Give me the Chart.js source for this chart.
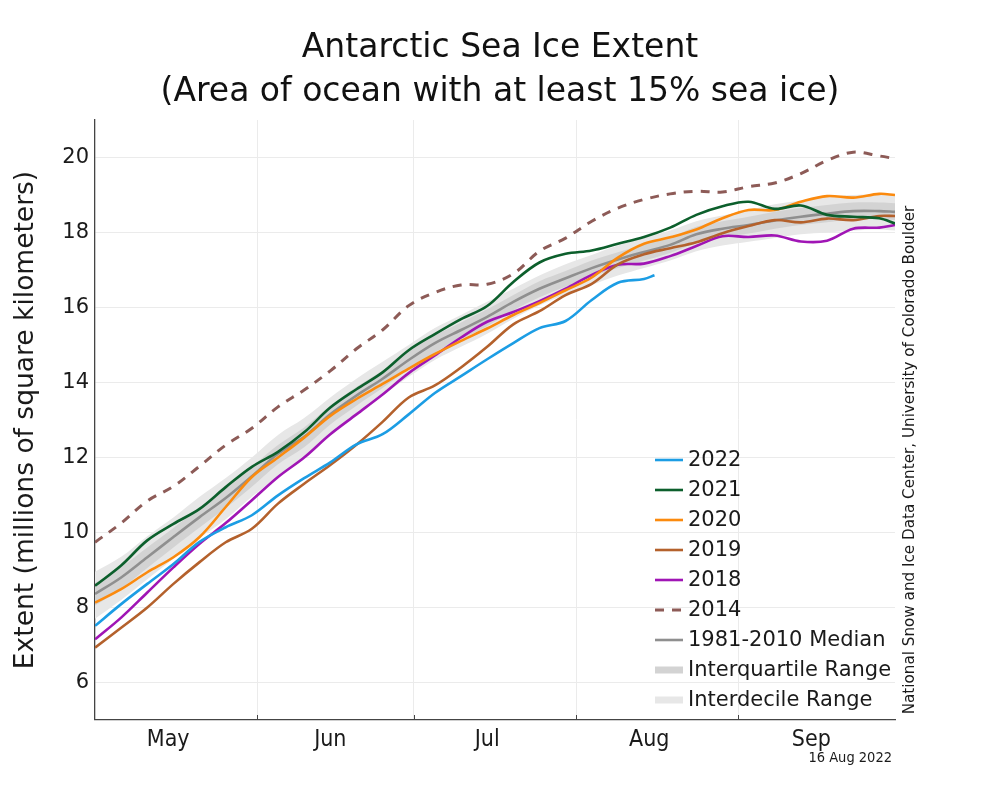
<!DOCTYPE html>
<html>
<head>
<meta charset="utf-8">
<script src="https://cdn.jsdelivr.net/npm/chart.js@4.4.1/dist/chart.umd.min.js"></script>
<style>
  html, body { margin: 0; padding: 0; background: #fff; }
</style>
</head>
<body>
<canvas id="iceChart" width="1000" height="800"></canvas>
<script>
// day 0 = 1 May
const days = [0, 5, 10, 15, 20, 25, 30, 35, 40, 45, 50, 55, 60, 65, 70, 75,
              80, 85, 90, 95, 100, 105, 110, 115, 120, 125, 130, 135, 140, 145, 150, 153];
const days2022 = [0, 5, 10, 15, 20, 25, 30, 35, 40, 45, 50, 55, 60, 65, 70, 75,
                  80, 85, 90, 95, 100, 105, 107];

const ext2022 = [7.51, 8.09, 8.63, 9.16, 9.75, 10.14, 10.46, 10.99, 11.45, 11.87, 12.35, 12.62,
                 13.15, 13.72, 14.17, 14.62, 15.05, 15.45, 15.64, 16.2, 16.66, 16.76, 16.86];
const ext2021 = [8.58, 9.12, 9.79, 10.23, 10.63, 11.21, 11.75, 12.15, 12.67, 13.33, 13.82, 14.27,
                 14.86, 15.29, 15.69, 16.04, 16.68, 17.2, 17.43, 17.52, 17.7, 17.88, 18.13, 18.47,
                 18.7, 18.82, 18.63, 18.72, 18.47, 18.42, 18.38, 18.24];
const ext2020 = [8.13, 8.49, 8.94, 9.34, 9.88, 10.68, 11.48, 12.0, 12.53, 13.11, 13.56, 13.96,
                 14.37, 14.76, 15.11, 15.44, 15.8, 16.12, 16.46, 16.8, 17.33, 17.7, 17.87, 18.08,
                 18.38, 18.6, 18.6, 18.82, 18.97, 18.93, 19.03, 19.0];
const ext2019 = [6.93, 7.46, 8.0, 8.63, 9.21, 9.74, 10.1, 10.77, 11.3, 11.8, 12.34, 12.95,
                 13.6, 13.92, 14.4, 14.95, 15.55, 15.9, 16.33, 16.63, 17.15, 17.42, 17.58, 17.74,
                 17.98, 18.17, 18.33, 18.27, 18.37, 18.33, 18.44, 18.44];
const ext2018 = [7.15, 7.73, 8.4, 9.07, 9.7, 10.25, 10.86, 11.48, 12.0, 12.62, 13.15, 13.68,
                 14.25, 14.72, 15.2, 15.62, 15.88, 16.17, 16.5, 16.87, 17.14, 17.17, 17.37, 17.64,
                 17.9, 17.88, 17.92, 17.76, 17.78, 18.1, 18.13, 18.2];
const ext2014 = [9.74, 10.25, 10.84, 11.23, 11.77, 12.33, 12.78, 13.35, 13.8, 14.31, 14.9, 15.4,
                 16.05, 16.4, 16.6, 16.62, 16.9, 17.5, 17.85, 18.3, 18.65, 18.88, 19.03, 19.1,
                 19.08, 19.22, 19.32, 19.57, 19.92, 20.14, 20.04, 19.97];
const median = [8.36, 8.8, 9.34, 9.88, 10.41, 10.92, 11.5, 12.1, 12.55, 13.15, 13.65, 14.1,
                14.6, 15.05, 15.4, 15.75, 16.15, 16.5, 16.78, 17.05, 17.28, 17.48, 17.67, 17.95,
                18.1, 18.2, 18.32, 18.42, 18.5, 18.57, 18.57, 18.55];
const quartHigh = [8.65, 9.08, 9.6, 10.12, 10.65, 11.18, 11.75, 12.33, 12.8, 13.38, 13.88, 14.32,
                   14.82, 15.25, 15.6, 15.95, 16.33, 16.7, 16.97, 17.25, 17.47, 17.68, 17.87, 18.15,
                   18.3, 18.42, 18.55, 18.65, 18.73, 18.8, 18.8, 18.78];
const quartLow = [8.05, 8.5, 9.05, 9.6, 10.13, 10.65, 11.22, 11.82, 12.27, 12.88, 13.38, 13.85,
                  14.35, 14.8, 15.15, 15.5, 15.92, 16.27, 16.55, 16.82, 17.05, 17.25, 17.45, 17.72,
                  17.87, 17.97, 18.1, 18.2, 18.27, 18.35, 18.35, 18.33];
const decHigh = [8.95, 9.35, 9.9, 10.4, 10.95, 11.45, 12.0, 12.6, 13.05, 13.6, 14.1, 14.55,
                 15.0, 15.45, 15.8, 16.15, 16.5, 16.85, 17.15, 17.4, 17.65, 17.85, 18.05, 18.3,
                 18.45, 18.6, 18.75, 18.85, 18.95, 19.0, 19.02, 19.0];
const decLow = [7.7, 8.2, 8.75, 9.3, 9.85, 10.35, 10.95, 11.5, 12.0, 12.6, 13.15, 13.65,
                14.15, 14.6, 14.95, 15.3, 15.7, 16.05, 16.35, 16.6, 16.85, 17.05, 17.25, 17.5,
                17.65, 17.75, 17.85, 17.95, 18.0, 18.05, 18.08, 18.05];

const monthNames  = ['May', 'Jun', 'Jul', 'Aug', 'Sep'];
const monthMids   = [14, 45, 75, 106, 137];   // 15th of each month
const monthStarts = [31, 61, 92, 123];        // 1st of Jun..Sep
const yTicks = [6, 8, 10, 12, 14, 16, 18, 20];

const GRID = '#ebebeb';
const AXIS = '#444';

const pts = (xs, ys) => ys.map((v, i) => ({ x: xs[i], y: v }));

function line(label, xs, ys, color, order, dash) {
  return {
    label, data: pts(xs, ys),
    borderColor: color, backgroundColor: color,
    borderWidth: dash ? 3 : 2.6,
    borderDash: dash || [],
    pointRadius: 0, tension: 0.35, fill: false, order,
  };
}

const datasets = [
  line('2022', days2022, ext2022, '#1c9de4', 1),
  line('2021', days, ext2021, '#0c5f2c', 2),
  line('2020', days, ext2020, '#fb8a0e', 3),
  line('2019', days, ext2019, '#b4612c', 4),
  line('2018', days, ext2018, '#a015b5', 5),
  line('2014', days, ext2014, '#8d5b57', 6, [9, 8]),
  line('1981-2010 Median', days, median, '#8f8f8f', 7),
  { label: 'Interquartile Range', data: pts(days, quartHigh), borderWidth: 0, pointRadius: 0,
    tension: 0.35, backgroundColor: '#d3d3d3', borderColor: '#d3d3d3', fill: '+1', order: 8 },
  { label: '', data: pts(days, quartLow), borderWidth: 0, pointRadius: 0,
    tension: 0.35, backgroundColor: '#d3d3d3', borderColor: '#d3d3d3', fill: false, order: 8 },
  { label: 'Interdecile Range', data: pts(days, decHigh), borderWidth: 0, pointRadius: 0,
    tension: 0.35, backgroundColor: '#e7e7e7', borderColor: '#e7e7e7', fill: '+1', order: 9 },
  { label: '', data: pts(days, decLow), borderWidth: 0, pointRadius: 0,
    tension: 0.35, backgroundColor: '#e7e7e7', borderColor: '#e7e7e7', fill: false, order: 9 },
];

const legendOrder = ['2022', '2021', '2020', '2019', '2018', '2014',
                     '1981-2010 Median', 'Interquartile Range', 'Interdecile Range'];

// tick marks, legend inside plot, credit text and date
const extras = {
  id: 'extras',
  afterDraw(chart) {
    const { ctx, chartArea: a, scales } = chart;
    ctx.save();

    ctx.strokeStyle = AXIS;
    ctx.lineWidth = 1;
    monthStarts.forEach(d => {
      const px = Math.round(scales.x.getPixelForValue(d)) + 0.5;
      ctx.beginPath();
      ctx.moveTo(px, a.bottom);
      ctx.lineTo(px, a.bottom - 5);
      ctx.stroke();
    });

    // legend
    const lx = a.right - 240, ly = a.bottom - 260;
    ctx.font = '21px "DejaVu Sans"';
    ctx.textBaseline = 'middle';
    ctx.textAlign = 'left';
    legendOrder.forEach((lab, i) => {
      const ds = chart.data.datasets.find(d => d.label === lab);
      const y = ly + i * 30;
      const band = ds.fill === '+1';
      ctx.beginPath();
      ctx.setLineDash(ds.borderDash || []);
      ctx.lineWidth = band ? 7 : ds.borderWidth;
      ctx.strokeStyle = band ? ds.backgroundColor : ds.borderColor;
      ctx.moveTo(lx, y);
      ctx.lineTo(lx + 28, y);
      ctx.stroke();
      ctx.setLineDash([]);
      ctx.fillStyle = '#1a1a1a';
      ctx.fillText(lab, lx + 33, y + 1);
    });

    // credit, vertical
    ctx.save();
    ctx.translate(910, 460);
    ctx.rotate(-Math.PI / 2);
    ctx.font = '15.2px "DejaVu Sans"';
    ctx.textAlign = 'center';
    ctx.fillStyle = '#1a1a1a';
    ctx.fillText('National Snow and Ice Data Center, University of Colorado Boulder', 0, 0);
    ctx.restore();

    ctx.font = '14.5px "DejaVu Sans Condensed", "DejaVu Sans"';
    ctx.textAlign = 'right';
    ctx.fillStyle = '#1a1a1a';
    ctx.fillText('16 Aug 2022', 892, 758);

    ctx.restore();
  }
};

new Chart(document.getElementById('iceChart'), {
  type: 'line',
  data: { datasets },
  plugins: [extras],
  options: {
    responsive: false,
    animation: false,
    layout: { padding: 0 },
    plugins: {
      legend: { display: false },
      tooltip: { enabled: false },
      title: {
        display: true,
        text: ['Antarctic Sea Ice Extent', '(Area of ocean with at least 15% sea ice)'],
        color: '#111',
        font: { family: 'DejaVu Sans', size: 33, weight: 'normal', lineHeight: 1.333 },
        padding: { top: 26, bottom: 6 },
      },
    },
    scales: {
      x: {
        type: 'linear', min: 0, max: 153,
        afterBuildTicks: s => {
          s.ticks = [...monthMids, ...monthStarts].sort((p, q) => p - q).map(v => ({ value: v }));
        },
        afterFit: s => { s.height = 80; },
        ticks: {
          autoSkip: false, maxRotation: 0, padding: 6, color: '#1a1a1a',
          font: { family: '"DejaVu Sans Condensed", "DejaVu Sans"', size: 23 },
          callback: v => {
            const i = monthMids.indexOf(v);
            return i >= 0 ? monthNames[i] : '';
          },
        },
        grid: {
          drawTicks: false,
          color: c => (c.tick && monthStarts.includes(c.tick.value)) ? GRID : 'rgba(0,0,0,0)',
        },
        border: { display: true, color: AXIS, width: 1.3 },
      },
      y: {
        min: 5, max: 21,
        afterBuildTicks: s => { s.ticks = yTicks.map(v => ({ value: v })); },
        afterFit: s => { s.width = 95; },
        ticks: { padding: 6, color: '#1a1a1a', font: { family: 'DejaVu Sans', size: 21 } },
        grid: { drawTicks: false, color: GRID },
        border: { display: true, color: AXIS, width: 1.3 },
        title: {
          display: true,
          text: 'Extent (millions of square kilometers)',
          color: '#1a1a1a',
          font: { family: 'DejaVu Sans', size: 26.5 },
          padding: { top: 10, bottom: 0 },
        },
      },
      // empty right margin that holds the credit text
      margin: {
        position: 'right', min: 5, max: 21,
        afterFit: s => { s.width = 105; },
        grid: { display: false },
        ticks: { display: false },
        border: { display: false },
      },
    },
  },
});
</script>
</body>
</html>
